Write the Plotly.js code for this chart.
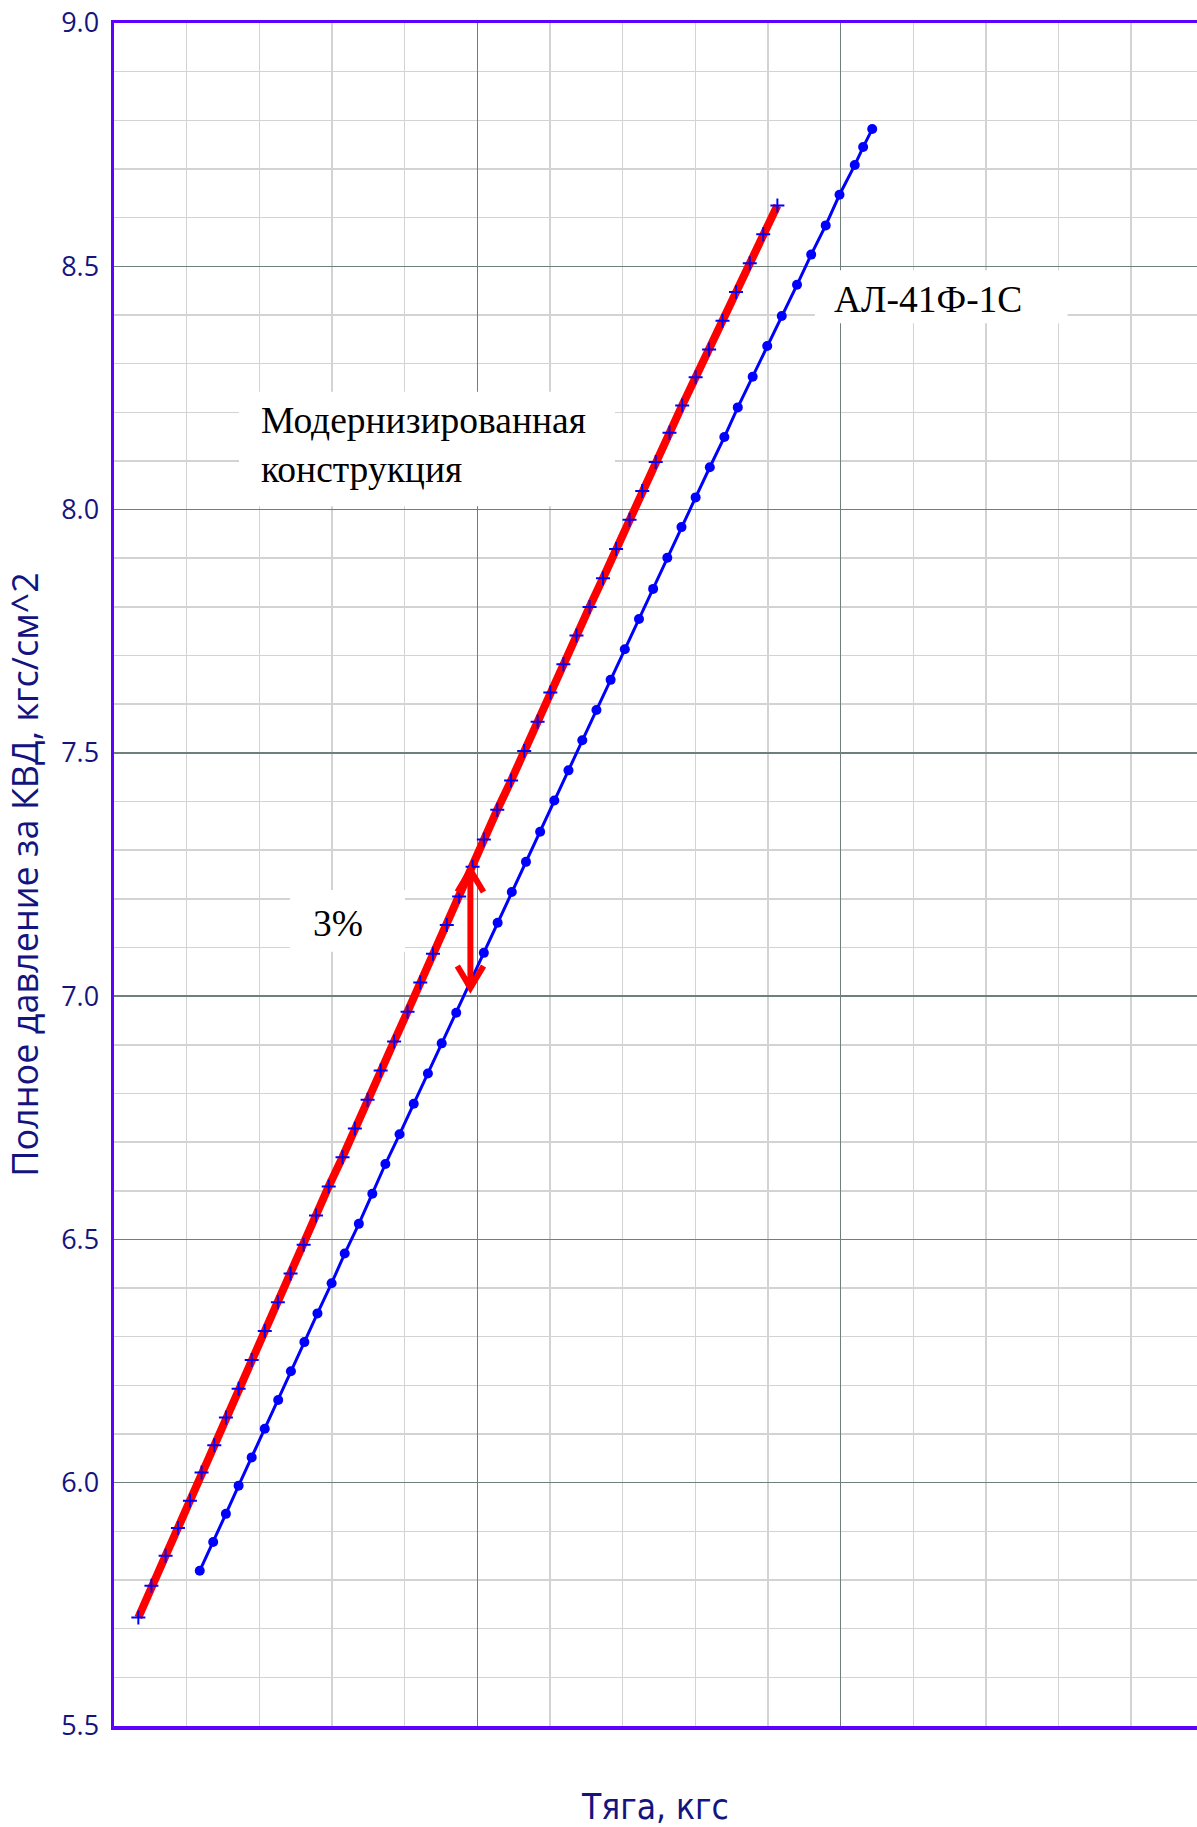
<!DOCTYPE html>
<html>
<head>
<meta charset="utf-8">
<script src="https://cdn.plot.ly/plotly-3.0.1.min.js"></script>
<style>
  html, body { margin: 0; padding: 0; background: #ffffff; }
  #chart { width: 1197px; height: 1827px; }
</style>
</head>
<body>
<div id="chart"></div>
<script>
// ---- Data ----
// Upgraded design ("Модернизированная конструкция")
const thrustMod = [12067, 12103, 12142, 12176, 12209, 12241, 12276, 12308, 12343, 12379,
                   12415, 12451, 12486, 12522, 12556, 12591, 12629, 12663, 12698, 12734,
                   12771, 12808, 12843, 12878, 12916, 12950, 12987, 13018, 13055, 13093,
                   13129, 13166, 13201, 13237, 13273, 13309, 13346, 13382, 13419, 13454,
                   13491, 13529, 13564, 13601, 13638, 13675, 13712, 13750, 13787, 13826];
const pressureMod = [5.723, 5.788, 5.850, 5.907, 5.963, 6.021, 6.077, 6.134, 6.193, 6.252,
                     6.312, 6.371, 6.430, 6.489, 6.549, 6.609, 6.669, 6.728, 6.787, 6.847,
                     6.907, 6.968, 7.028, 7.087, 7.146, 7.205, 7.266, 7.322, 7.383, 7.443,
                     7.504, 7.564, 7.624, 7.682, 7.741, 7.800, 7.859, 7.919, 7.979, 8.038,
                     8.098, 8.158, 8.214, 8.272, 8.329, 8.388, 8.447, 8.506, 8.566, 8.625];

// АЛ-41Ф-1С
const thrustAL = [12236, 12273, 12308, 12343, 12379, 12415, 12452, 12487, 12524, 12560,
                  12599, 12635, 12674, 12711, 12747, 12786, 12825, 12864, 12902, 12942,
                  12980, 13018, 13056, 13095, 13134, 13173, 13212, 13251, 13289, 13328,
                  13367, 13406, 13445, 13484, 13523, 13562, 13601, 13640, 13680, 13717,
                  13758, 13798, 13838, 13880, 13919, 13959, 13997, 14039, 14062, 14087];
const pressureAL = [5.819, 5.878, 5.936, 5.994, 6.052, 6.111, 6.170, 6.229, 6.289, 6.348,
                    6.410, 6.471, 6.532, 6.594, 6.655, 6.716, 6.779, 6.841, 6.903, 6.966,
                    7.027, 7.089, 7.151, 7.214, 7.276, 7.338, 7.402, 7.464, 7.526, 7.588,
                    7.650, 7.713, 7.775, 7.837, 7.901, 7.964, 8.025, 8.087, 8.149, 8.210,
                    8.273, 8.336, 8.398, 8.462, 8.524, 8.584, 8.647, 8.708, 8.745, 8.782];

// Labels
const labelMod = "Модернизированная<br>конструкция";
const labelAL = "АЛ-41Ф-1С";
const labelGap = "3%";
const xTitle = "Тяга, кгс";
const yTitle = "Полное давление за КВД, кгс/см^2";

// Gap arrow (thrust, pressure from / to)
const gapThrust = 12981;
const gapFrom = 7.259;
const gapTo = 7.017;

// ---- Styling ----
const navy = '#14147f';
const axisViolet = '#5c00ff';
const majorGrid = '#6f7f7d';
const minorGrid = '#d3d3d3';
const serif = 'Liberation Serif, Times New Roman, serif';

const traces = [
  {
    x: thrustMod, y: pressureMod, type: 'scatter', mode: 'lines+markers',
    line: { color: '#ff0000', width: 8 },
    marker: { symbol: 'cross-thin', size: 10, color: '#0000ff', line: { color: '#0000ff', width: 2 } },
    hoverinfo: 'x+y', showlegend: false
  },
  {
    x: thrustAL, y: pressureAL, type: 'scatter', mode: 'lines+markers',
    line: { color: '#0000ff', width: 3 },
    marker: { symbol: 'circle', size: 10, color: '#0000ff' },
    hoverinfo: 'x+y', showlegend: false
  }
];

// arrow head geometry in data units
const headDx = 36, headDy = 0.045;
const arrowPath =
  'M' + gapThrust + ',' + gapFrom + ' L' + gapThrust + ',' + gapTo +
  ' M' + (gapThrust - headDx) + ',' + (gapFrom - headDy) + ' L' + gapThrust + ',' + gapFrom +
  ' L' + (gapThrust + headDx) + ',' + (gapFrom - headDy) +
  ' M' + (gapThrust - headDx) + ',' + (gapTo + headDy) + ' L' + gapThrust + ',' + gapTo +
  ' L' + (gapThrust + headDx) + ',' + (gapTo + headDy);

const layout = {
  width: 1197, height: 1827,
  margin: { l: 114, r: 0, t: 23, b: 101, pad: 0 },
  paper_bgcolor: '#ffffff', plot_bgcolor: '#ffffff',
  font: { family: 'Open Sans, Noto Sans, sans-serif', color: navy },
  showlegend: false,
  xaxis: {
    range: [12000, 14981], tick0: 12000, dtick: 1000,
    showticklabels: false, ticks: '', zeroline: false,
    showgrid: true, gridcolor: majorGrid, gridwidth: 1.3,
    minor: { dtick: 200, showgrid: true, gridcolor: minorGrid, gridwidth: 1.5, ticks: '' },
    showline: true, linecolor: axisViolet, linewidth: 3.5, mirror: true,
    automargin: false,
    title: { text: xTitle, standoff: 69,
             font: { family: 'Liberation Sans Narrow, DejaVu Sans Condensed, Arial Narrow, sans-serif', size: 35, color: navy } }
  },
  yaxis: {
    range: [5.5, 9.0], tick0: 5.5, dtick: 0.5, tickformat: '.1f',
    ticks: '', zeroline: false, ticklabelstandoff: 6,
    tickfont: { family: 'Open Sans, Noto Sans, sans-serif', size: 27, color: navy },
    showgrid: true, gridcolor: majorGrid, gridwidth: 1.3,
    minor: { dtick: 0.1, showgrid: true, gridcolor: minorGrid, gridwidth: 1.5, ticks: '' },
    showline: true, linecolor: axisViolet, linewidth: 3.5, mirror: false,
    automargin: false,
    title: { text: yTitle, standoff: 12,
             font: { family: 'Open Sans, Noto Sans, sans-serif', size: 36, color: navy } }
  },
  shapes: [
    { type: 'rect', layer: 'between', xref: 'x', yref: 'y', x0: 12344, x1: 13379, y0: 8.007, y1: 8.242,
      fillcolor: '#ffffff', line: { width: 0 } },
    { type: 'rect', layer: 'between', xref: 'x', yref: 'y', x0: 13929, x1: 14625, y0: 8.383, y1: 8.492,
      fillcolor: '#ffffff', line: { width: 0 } },
    { type: 'rect', layer: 'between', xref: 'x', yref: 'y', x0: 12484, x1: 12801, y0: 7.091, y1: 7.218,
      fillcolor: '#ffffff', line: { width: 0 } },
    { type: 'path', layer: 'above', xref: 'x', yref: 'y', path: arrowPath,
      line: { color: '#ff0000', width: 6 } }
  ],
  annotations: [
    { text: labelMod, xref: 'x', yref: 'y', x: 12400, y: 8.133, xanchor: 'left', yanchor: 'middle',
      align: 'left', showarrow: false, font: { family: serif, size: 37.5, color: '#000000' } },
    { text: labelAL, xref: 'x', yref: 'y', x: 13975, y: 8.432, xanchor: 'left', yanchor: 'middle',
      showarrow: false, font: { family: serif, size: 37.5, color: '#000000' } },
    { text: labelGap, xref: 'x', yref: 'y', x: 12616, y: 7.150, xanchor: 'center', yanchor: 'middle',
      showarrow: false, font: { family: serif, size: 37.5, color: '#000000' } }
  ]
};

Plotly.newPlot('chart', traces, layout, { displayModeBar: false, staticPlot: true });
</script>
</body>
</html>
